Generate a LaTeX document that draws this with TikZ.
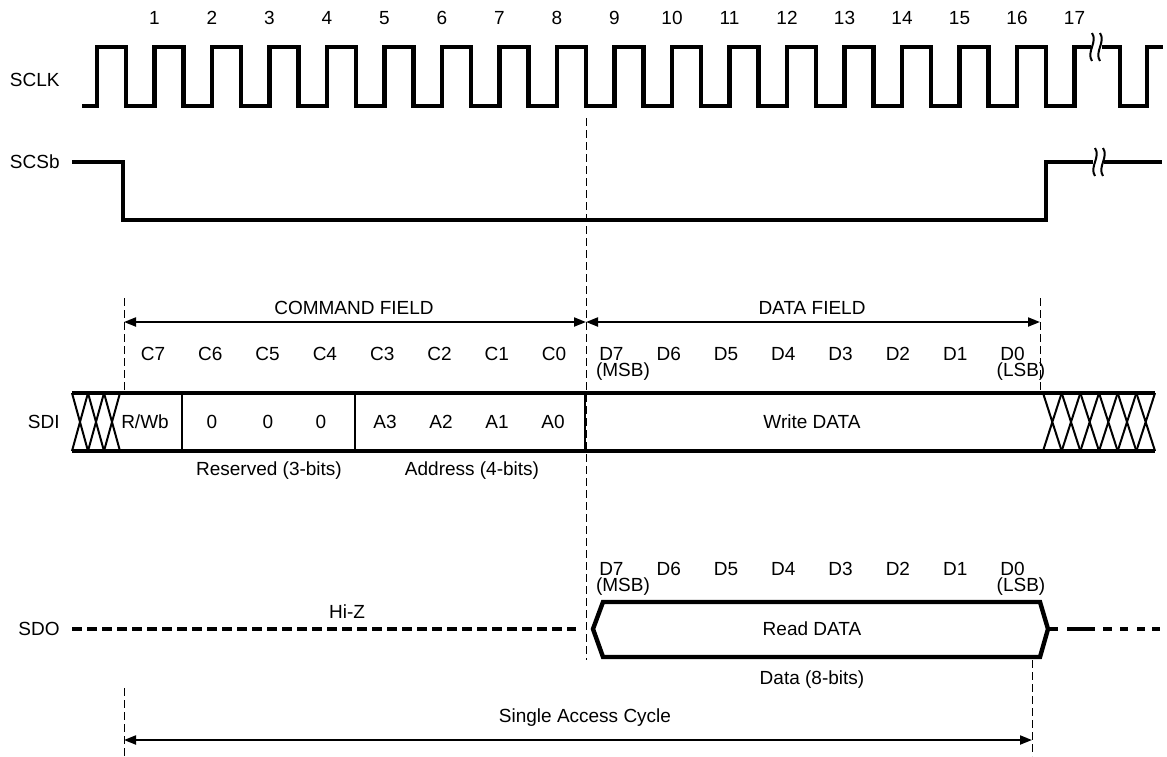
\documentclass[tikz,border=0pt]{standalone}
\usepackage{fontspec}
\setmainfont{Liberation Sans}
\usetikzlibrary{arrows.meta}
\tikzset{
  wave/.style={line width=2.2pt, line join=miter},
  hatch/.style={line width=1pt},
  divider/.style={line width=1.3pt},
  brk/.style={line width=1pt},
  guide/.style={line width=0.5pt, dash pattern=on 4pt off 2pt},
  span/.style={line width=1pt, {Triangle[length=6pt,width=4.5pt]}-{Triangle[length=6pt,width=4.5pt]}},
  lbl/.style={font=\fontsize{9.5}{11}\selectfont, inner sep=0pt},
}
\begin{document}
\begin{tikzpicture}[x=0.5pt,y=-0.5pt]
        \useasboundingbox (0,0) rectangle (1167,756);
        % clock numbers and signal names
        \foreach \k in {1,...,17}
            \node[lbl] (num\k) at ({97+57.5*\k},18) {\k};
        \node[lbl,anchor=east] (sclk) at (60,80) {SCLK};
        \node[lbl,anchor=east] (scsb) at (60,162) {SCSb};
        \node[lbl,anchor=east] (sdi) at (60,422) {SDI};
        \node[lbl,anchor=east] (sdo) at (60,629) {SDO};
        % SCLK
        \draw[wave] (82,106) \foreach \k in {0,...,16} {
                -- ({97+57.5*\k},106) -- ({97+57.5*\k},47)
                -- ({126+57.5*\k},47) -- ({126+57.5*\k},106)}
            -- (1074.5,106) -- (1074.5,47) -- (1091,47);
        \draw[wave] (1102,47) -- (1120,47) -- (1120,106) -- (1147,106) -- (1147,47) -- (1163,47);
        \draw[brk] (1092,33) .. controls (1098,42) and (1086,52) .. (1092,61);
        \draw[brk] (1100,33) .. controls (1106,42) and (1094,52) .. (1100,61);
        % SCSb
        \draw[wave] (72,162) -- (123,162) -- (123,220) -- (1046,220) -- (1046,162) -- (1093,162);
        \draw[wave] (1104,162) -- (1162,162);
        \draw[brk] (1095,148) .. controls (1101,157) and (1089,167) .. (1095,176);
        \draw[brk] (1103,148) .. controls (1109,157) and (1097,167) .. (1103,176);
        % guides
        \draw[guide] (124,298) -- (124,392);
        \draw[guide] (124,688) -- (124,756);
        \draw[guide] (586,118) -- (586,660);
        \draw[guide] (1040,298) -- (1040,392);
        \draw[guide] (1032,660) -- (1032,756);
        % fields
        \coordinate (cmdL) at (124,322);
        \coordinate (cmdR) at (586,322);
        \coordinate (datR) at (1040,322);
        \draw[span] (cmdL) -- (cmdR);
        \draw[span] (cmdR) -- (datR);
        \node[lbl] (cmdf) at (354,308) {COMMAND FIELD};
        \node[lbl] (datf) at (812,308) {DATA FIELD};
        \foreach \n [count=\i from 0] in {7,...,0}
            \node[lbl] (c\n) at ({153+57.3*\i},354) {C\n};
        \foreach \n [count=\i from 8] in {7,...,0} {
            \node[lbl] (di\n) at ({153+57.3*\i},354) {D\n};
            \node[lbl] (do\n) at ({153+57.3*\i},569) {D\n};
        }
        \node[lbl] (msbi) at (623,372) {(MSB)};
        \node[lbl] (lsbi) at (1021,372) {(LSB)};
        \node[lbl] (msbo) at (623,587) {(MSB)};
        \node[lbl] (lsbo) at (1021,587) {(LSB)};
        % SDI
        \draw[wave] (72,393) -- (1155,393);
        \draw[wave] (72,451) -- (1155,451);
        \foreach \x in {72,88,104}
            \draw[hatch] (\x,393) -- ++(16,58) (\x,451) -- ++(16,-58);
        \foreach \i in {0,...,5}
            \draw[hatch] ({1043+18.67*\i},393) -- ++(18.67,58) ({1043+18.67*\i},451) -- ++(18.67,-58);
        \foreach \x in {182,355,585}
            \draw[divider] (\x,393) -- (\x,451);
        \node[lbl] (rw) at (145,422) {R/Wb};
        \node[lbl] (z2) at (212,422) {0};
        \node[lbl] (z1) at (268,422) {0};
        \node[lbl] (z0) at (321,422) {0};
        \node[lbl] (a3) at (385,422) {A3};
        \node[lbl] (a2) at (441,422) {A2};
        \node[lbl] (a1) at (497,422) {A1};
        \node[lbl] (a0) at (553,422) {A0};
        \node[lbl] (wd) at (812,422) {Write DATA};
        \node[lbl] (resv) at (269,471) {Reserved (3-bits)};
        \node[lbl] (addr) at (472,471) {Address (4-bits)};
        % SDO
        \draw[wave, dash pattern=on 5pt off 2.5pt] (72,629) -- (576,629);
        \draw[wave] (593,629) -- (603,602) -- (1040,602) -- (1048,629) -- (1040,657) -- (603,657) -- cycle;
        \foreach \a/\b in {1048/1058,1067/1095,1103/1112,1120/1128,1137/1145,1152/1160}
            \draw[wave] (\a,629) -- (\b,629);
        \node[lbl] (hiz) at (347,612) {Hi-Z};
        \node[lbl] (rd) at (812,629) {Read DATA};
        \node[lbl] (d8) at (812,680) {Data (8-bits)};
        % cycle
        \coordinate (cycL) at (124,740);
        \coordinate (cycR) at (1032,740);
        \draw[span] (cycL) -- (cycR);
        \node[lbl] (cyc) at (585,718) {Single Access Cycle};
    \end{tikzpicture}
\end{document}
